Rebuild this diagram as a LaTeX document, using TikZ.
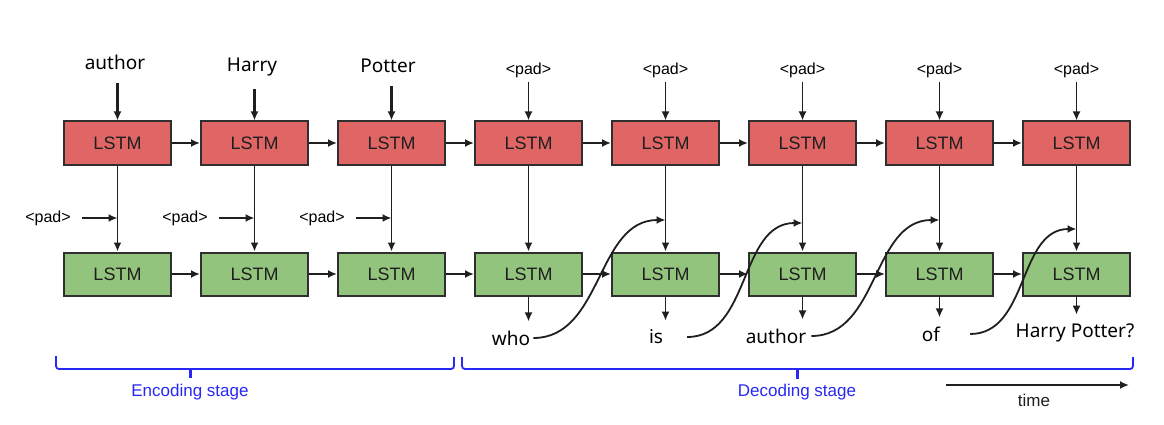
\documentclass[tikz,border=0pt]{standalone}
\usepackage{fontspec}
\setmainfont{Liberation Sans}
\newfontfamily\wordfont{Noto Sans}
\usetikzlibrary{arrows.meta,calc}
\definecolor{lstmred}{HTML}{E06666}
\definecolor{lstmgreen}{HTML}{93C47D}
\definecolor{stageblue}{RGB}{40,40,245}
\definecolor{edgegray}{HTML}{2F2F2F}
\begin{document}
\begin{tikzpicture}[x=1pt,y=-1pt,
  cell/.style={draw=edgegray,line width=2pt,minimum width=107pt,minimum height=43pt,inner sep=0pt,
    font=\fontsize{18}{18}\selectfont,text=black!88},
  redcell/.style={cell,fill=lstmred},
  greencell/.style={cell,fill=lstmgreen},
  arr/.style={-{Latex[length=9pt,width=8pt]},line width=1.8pt,draw=black!88},
  thickarr/.style={arr,line width=3.2pt},
  wordlbl/.style={font=\wordfont\fontsize{19}{19}\selectfont,inner sep=3pt},
  padlbl/.style={font=\fontsize{16}{16}\selectfont,inner sep=2pt},
  stagelbl/.style={font=\fontsize{17}{17}\selectfont,text=stageblue,inner sep=2pt},
  brace/.style={draw=stageblue,line width=1.8pt,rounded corners=3pt},
  bracetick/.style={draw=stageblue,line width=3pt}]
\useasboundingbox (0,0) rectangle (1164,425);
\fill[white] (0,0) rectangle (1164,425);

% LSTM cells
\foreach \i in {1,...,8}{
  \node[redcell]   (t\i) at ({117.5+137*(\i-1)},143) {LSTM};
  \node[greencell] (b\i) at ({117.5+137*(\i-1)},274) {LSTM};
}

% encoder inputs
\node[wordlbl] (in1) at (115,62) {author};
\node[wordlbl] (in2) at (252,67) {Harry};
\node[wordlbl] (in3) at (388,66) {Potter};
\foreach \i in {1,2,3}{
  \draw[thickarr,shorten <=10pt] (t\i.north |- in\i.south) -- (t\i.north);
}

% decoder <pad> inputs
\foreach \i in {4,...,8}{
  \node[padlbl] (in\i) at ({117.5+137*(\i-1)},70) {<pad>};
  \draw[arr,shorten <=2pt] (t\i.north |- in\i.south) -- (t\i.north);
}

% horizontal recurrences
\foreach \i [evaluate=\i as \j using int(\i+1)] in {1,...,7}{
  \draw[arr] (t\i.east) -- (t\j.west);
  \draw[arr] (b\i.east) -- (b\j.west);
}

% vertical connections
\foreach \i in {1,...,8}{
  \draw[arr] (t\i.south) -- (b\i.north);
}

% side <pad> inputs in the encoder
\foreach \i/\x in {1/48,2/185,3/322}{
  \node[padlbl] (p\i) at (\x,218) {<pad>};
  \coordinate (m\i) at ({117.5+137*(\i-1)},218);
  \draw[arr,shorten <=9pt] (p\i.east) -- (m\i);
}

% decoder outputs
\node[wordlbl] (o4) at (511,338) {who};
\node[wordlbl] (o5) at (656,337) {is};
\node[wordlbl] (o6) at (776,336) {author};
\node[wordlbl] (o7) at (931,334) {of};
\node[wordlbl] (o8) at (1075,333) {Harry Potter?};
\foreach \i in {4,...,8}{
  \draw[arr,shorten >=6pt] (b\i.south) -- (b\i.south |- o\i.north);
}

% feedback of outputs into the next step
\coordinate (m5) at (665.5,220);
\coordinate (m6) at (802.5,223);
\coordinate (m7) at (939.5,220);
\coordinate (m8) at (1076.5,229);
\draw[arr] (o4.east) to[out=0,in=180] (m5);
\draw[arr] ([xshift=21pt]o5.east) to[out=0,in=180] (m6);
\draw[arr] ([xshift=2pt]o6.east) to[out=0,in=180] (m7);
\draw[arr] ([xshift=27pt]o7.east) to[out=0,in=180] (m8);

% stage braces
\draw[brace] (56,356) -- (56,369) -- (454,369) -- (454,357);
\draw[bracetick] (190,369) -- (190,378);
\node[stagelbl] (enc) at (190,392) {Encoding stage};
\draw[brace] (462,357) -- (462,369) -- (1133,369) -- (1133,357);
\draw[bracetick] (797,369) -- (797,379);
\node[stagelbl] (dec) at (797,392) {Decoding stage};

% time arrow
\coordinate (ts) at (946,385);
\coordinate (te) at (1129,385);
\draw[arr,line width=2pt] (ts) -- (te);
\node[font=\fontsize{17}{17}\selectfont,text=black!88] (time) at (1034,400) {time};
\end{tikzpicture}
\end{document}
